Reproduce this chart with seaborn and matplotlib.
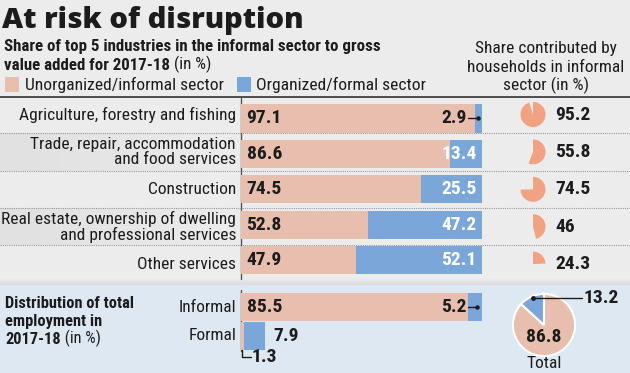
import matplotlib
matplotlib.use("Agg")
import matplotlib.pyplot as plt
from matplotlib import font_manager
from matplotlib.patches import Rectangle
import seaborn as sns

sns.set_theme(style="white")
names = {f.name for f in font_manager.fontManager.ttflist}
BODY = "Roboto Condensed" if "Roboto Condensed" in names else "Liberation Sans"
TITLE = "Open Sans" if "Open Sans" in names else "Liberation Sans"
plt.rcParams["font.family"] = [BODY, "DejaVu Sans"]

# ---------------- data ----------------
industries = ["Agriculture, forestry and fishing",
              "Trade, repair, accommodation\nand food services",
              "Construction",
              "Real estate, ownership of dwelling\nand professional services",
              "Other services"]
informal_share = [97.1, 86.6, 74.5, 52.8, 47.9]
formal_share = [2.9, 13.4, 25.5, 47.2, 52.1]
household_share = [95.2, 55.8, 74.5, 46, 24.3]

emp_groups = ["Informal", "Formal"]
emp_informal_sector = [85.5, 1.3]
emp_formal_sector = [5.2, 7.9]
total_emp = [86.8, 13.2]

# ---------------- style ----------------
PINK = "#e8bfae"
BLUE = "#7ba6da"
SALMON = "#f0a283"
BG = "#ececec"
PANEL = "#dde8f3"
INK = "#1c1c1c"

W, H = 630, 373
fig = plt.figure(figsize=(W / 100, H / 100), dpi=100)
fig.patch.set_facecolor(BG)

ov = fig.add_axes([0, 0, 1, 1])
ov.set_xlim(0, W)
ov.set_ylim(H, 0)
ov.axis("off")


def fbox(x0, y0, x1, y1):
    """pixel box (top-left origin) -> figure fraction rect"""
    return [x0 / W, 1 - y1 / H, (x1 - x0) / W, (y1 - y0) / H]


ROW0, STEP = 114.5, 37.4

# backgrounds
for i in (1, 3):
    yc = ROW0 + i * STEP
    for k in range(12):
        ov.add_patch(Rectangle((k * 20, yc - STEP / 2), 20, STEP, color="#d8d8d8",
                               alpha=0.55 * (1 - k / 12), lw=0, zorder=0))
ov.add_patch(Rectangle((0, 285), W, H - 285, color=PANEL, lw=0, zorder=0))
for k, a in enumerate([0.04, 0.07, 0.1, 0.13, 0.16, 0.2]):
    ov.add_patch(Rectangle((0, 279 + k), W, 1, color="#9a9a9a", alpha=a, lw=0, zorder=1))

# header
ov.text(2, 28, "At risk of disruption", fontsize=21, fontweight="heavy",
        family=[TITLE, "DejaVu Sans"], color=INK, va="baseline", ha="left")
ov.text(4, 51, "Share of top 5 industries in the informal sector to gross",
        fontsize=12.2, fontweight="bold", color=INK, va="baseline")
t = ov.text(4, 70, "value added for 2017-18", fontsize=12.2, fontweight="bold",
            color=INK, va="baseline")
ov.annotate(" (in %)", xycoords=t, xy=(1, 0), va="bottom", fontsize=12.2, color=INK)
ov.add_patch(Rectangle((5, 77), 14, 15, color=PINK, lw=0))
ov.text(25, 90, "Unorganized/informal sector", fontsize=12.6, color=INK, va="baseline")
ov.add_patch(Rectangle((237, 77), 14, 15, color=BLUE, lw=0))
ov.text(256, 90, "Organized/formal sector", fontsize=12.6, color=INK, va="baseline")
for yy, line in zip([53, 72, 90], ["Share contributed by", "households in informal",
                                     "sector (in %)"]):
    ov.text(546, yy, line, fontsize=12.5, color=INK, ha="center", va="baseline")
ov.plot([0, W], [97, 97], color="#333333", lw=1.2)

# row separators and axis lines
for i in range(4):
    yy = ROW0 + (i + 0.5) * STEP
    ov.plot([0, W], [yy, yy], color="#9a9a9a", lw=0.8, ls=(0, (1, 1)))
ov.plot([241, 241], [98, 279], color="#555555", lw=1)
ov.plot([241, 241], [290, 351], color="#555555", lw=1)

# row labels
for i, lab in enumerate(industries):
    ov.text(236, ROW0 + i * STEP, lab, fontsize=12.5, color=INK, ha="right",
            va="center", linespacing=1.0)

# ---------------- upper bars ----------------
ax = fig.add_axes(fbox(241, ROW0 - STEP / 2, 482, ROW0 + 4.5 * STEP))
totals = [a + b for a, b in zip(informal_share, formal_share)]
sns.barplot(x=totals, y=industries, orient="h", color=BLUE, saturation=1,
            width=0.8, linewidth=0, ax=ax)
sns.barplot(x=informal_share, y=industries, orient="h", color=PINK, saturation=1,
            width=0.8, linewidth=0, ax=ax)
ax.set_xlim(0, 100)
ax.axis("off")
ax.patch.set_alpha(0)
numfont = dict(fontsize=14, fontweight="bold")
for i, (a, b) in enumerate(zip(informal_share, formal_share)):
    ax.text(2.3, i, f"{a:g}", color=INK, ha="left", va="center", **numfont)
    if b < 5:
        ax.text(a - 3.6, i, f"{b:g}", color=INK, ha="right", va="center", **numfont)
        ax.plot([a - 2.9, a + 1.3], [i, i], color=INK, lw=1)
        ax.plot([a + 1.3], [i], marker="o", ms=2.2, color=INK)
    else:
        ax.text(a + b - 2.3, i, f"{b:g}", color="white", ha="right", va="center", **numfont)

# ---------------- household pies ----------------
for i, v in enumerate(household_share):
    cy = ROW0 + i * STEP
    r = 12.5
    pa = fig.add_axes(fbox(533 - r, cy - r, 533 + r, cy + r))
    pa.pie([v, 100 - v], colors=[SALMON, "none"], startangle=90, counterclock=False,
           wedgeprops=dict(linewidth=0))
    pa.set_xlim(-1, 1)
    pa.set_ylim(-1, 1)
    pa.axis("off")
    ov.text(555, cy, f"{v:g}", color=INK, ha="left", va="center", **numfont)

# ---------------- bottom section ----------------
ov.text(5, 308, "Distribution of total", fontsize=11.8, fontweight="bold", color=INK, va="baseline")
ov.text(5, 326, "employment in", fontsize=11.8, fontweight="bold", color=INK, va="baseline")
t2 = ov.text(5, 344, "2017-18", fontsize=11.8, fontweight="bold", color=INK, va="baseline")
ov.annotate(" (in %)", xycoords=t2, xy=(1, 0), va="bottom", fontsize=11.8, color=INK)
for yy, lab in zip([307, 336], emp_groups):
    ov.text(236, yy, lab, fontsize=12.5, color=INK, ha="right", va="center")

bx = fig.add_axes(fbox(241, 292, 482, 351))
emp_tot = [a + b for a, b in zip(emp_informal_sector, emp_formal_sector)]
sns.barplot(x=emp_tot, y=emp_groups, orient="h", color=BLUE, saturation=1,
            width=0.95, linewidth=0, ax=bx)
sns.barplot(x=emp_informal_sector, y=emp_groups, orient="h", color=PINK, saturation=1,
            width=0.95, linewidth=0, ax=bx)
bx.set_xlim(0, emp_tot[0])
bx.set_ylim(1.5, -0.5)
bx.axis("off")
bx.patch.set_alpha(0)
bx.text(2.3, 0, f"{emp_informal_sector[0]:g}", color=INK, ha="left", va="center", **numfont)
a0 = emp_informal_sector[0]
bx.text(a0 - 0.8, 0, f"{emp_formal_sector[0]:g}", color=INK, ha="right", va="center", **numfont)
bx.plot([a0 - 0.2, a0 + 3.3], [0, 0], color=INK, lw=1)
bx.plot([a0 + 3.3], [0], marker="o", ms=2.2, color=INK)
bx.text(emp_tot[1] + 2.8, 1, f"{emp_formal_sector[1]:g}", color=INK, ha="left",
        va="center", **numfont)
bx.plot([0.45, 0.45, 3.6], [1.48, 1.7, 1.7], color=INK, lw=1, clip_on=False)
bx.text(4.1, 1.7, f"{emp_informal_sector[1]:g}", color=INK, ha="left", va="center",
        clip_on=False, **numfont)

# total pie
R = 32
tp = fig.add_axes(fbox(544 - R, 325 - R, 544 + R, 325 + R))
tp.pie(total_emp, colors=[PINK, BLUE], startangle=90, counterclock=False,
       wedgeprops=dict(linewidth=1.5, edgecolor="white"))
tp.set_xlim(-1.03, 1.03)
tp.set_ylim(-1.03, 1.03)
tp.axis("off")
tp.text(0, -0.38, f"{total_emp[0]:g}", color=INK, ha="center", va="center", **numfont)
tp.plot([-0.34, 1.22], [0.875, 0.875], color=INK, lw=1, clip_on=False)
tp.plot([-0.34], [0.875], marker="o", ms=2.5, color=INK)
tp.text(1.28, 0.875, f"{total_emp[1]:g}", color=INK, ha="left", va="center",
        clip_on=False, **numfont)
ov.text(544, 363, "Total", fontsize=12.5, color=INK, ha="center", va="center")

fig.savefig("out.png", dpi=100, facecolor=BG)
